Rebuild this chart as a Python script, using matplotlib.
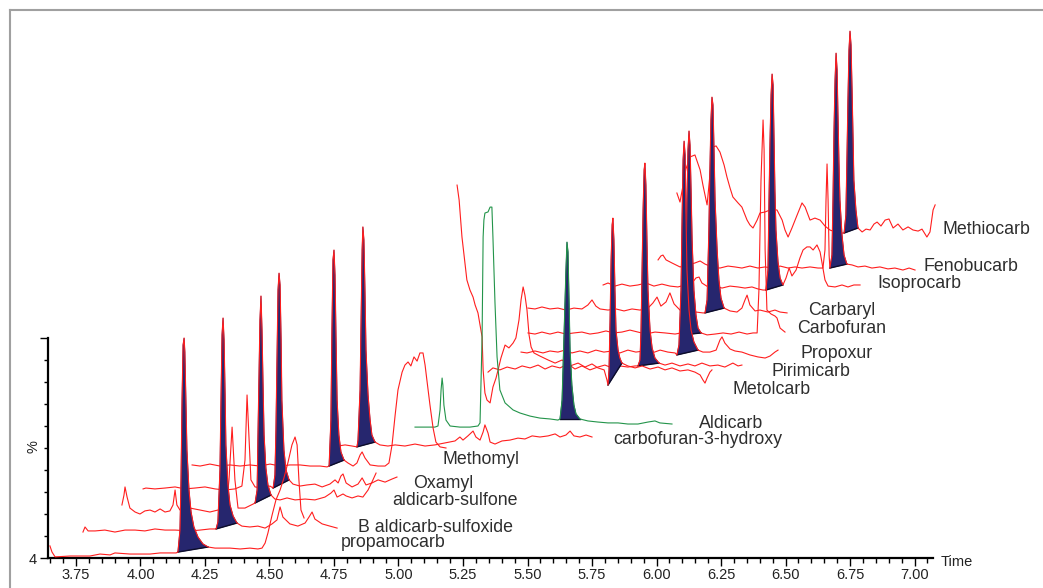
import matplotlib
matplotlib.use("Agg")
import matplotlib.pyplot as plt
from matplotlib.lines import Line2D
from matplotlib.ticker import MultipleLocator, FixedLocator
import numpy as np

plt.rcParams['font.family'] = ['Liberation Sans', 'DejaVu Sans']

# ---------------- data (time in min, intensity in %) ----------------
t_propamocarb = [3.649, 3.657, 3.669, 3.727, 3.804, 3.843, 3.882, 3.901, 3.959, 3.998,
                 4.037, 4.076, 4.114, 4.138, 4.145, 4.153, 4.157, 4.161, 4.165, 4.169,
                 4.172, 4.176, 4.180, 4.188, 4.196, 4.207, 4.223, 4.242, 4.262, 4.289,
                 4.347, 4.386, 4.424, 4.455, 4.471, 4.483, 4.494, 4.510, 4.525, 4.541,
                 4.556, 4.572, 4.587, 4.599, 4.607, 4.614, 4.622, 4.634]
y_propamocarb = [5.5, 2.7, 0.5, 0.9, 0.9, 1.8, 1.4, 2.3, 1.8, 1.8,
                 1.8, 2.3, 2.3, 2.3, 2.7, 12.7, 35.5, 71.8, 96.8, 100.0,
                 93.6, 71.8, 49.1, 30.9, 20.9, 14.1, 9.5, 6.4, 5.0, 4.5,
                 4.5, 4.1, 4.5, 4.1, 4.5, 6.8, 11.4, 19.5, 26.4, 30.9,
                 36.4, 43.6, 51.4, 55.0, 51.4, 35.5, 21.8, 18.2]

t_sulfoxide = [3.777, 3.785, 3.797, 3.824, 3.862, 3.901, 3.940, 3.979, 4.017, 4.056,
               4.095, 4.134, 4.192, 4.231, 4.269, 4.293, 4.300, 4.308, 4.312, 4.316,
               4.320, 4.324, 4.328, 4.331, 4.339, 4.347, 4.359, 4.374, 4.393, 4.424,
               4.455, 4.483, 4.510, 4.529, 4.541, 4.552, 4.579, 4.610, 4.638, 4.653,
               4.665, 4.676, 4.704, 4.734, 4.762]
y_sulfoxide = [11.8, 14.1, 12.3, 12.3, 12.7, 11.8, 12.7, 12.7, 12.3, 13.2,
               12.7, 12.7, 12.3, 12.7, 13.2, 13.2, 16.4, 40.0, 71.8, 101.4,
               109.1, 99.1, 74.1, 51.4, 33.2, 24.1, 19.1, 15.9, 14.5, 14.1,
               14.5, 13.6, 15.5, 17.3, 23.2, 18.6, 15.5, 14.5, 15.9, 18.6,
               20.9, 17.7, 15.5, 14.5, 13.6]

t_sulfone = [3.928, 3.936, 3.940, 3.948, 3.959, 3.979, 3.998, 4.017, 4.037, 4.056,
             4.076, 4.095, 4.114, 4.126, 4.134, 4.141, 4.153, 4.192, 4.231, 4.269,
             4.300, 4.331, 4.343, 4.355, 4.366, 4.378, 4.405, 4.436, 4.444, 4.452,
             4.455, 4.459, 4.463, 4.467, 4.471, 4.475, 4.479, 4.486, 4.494, 4.506,
             4.521, 4.541, 4.568, 4.599, 4.638, 4.676, 4.715, 4.738, 4.750, 4.762,
             4.785, 4.797, 4.820, 4.843, 4.862, 4.882, 4.897, 4.913]
y_sulfone = [24.1, 28.6, 32.3, 27.7, 22.7, 20.9, 20.0, 21.4, 21.8, 20.9,
             22.3, 20.9, 21.4, 24.1, 30.9, 24.1, 21.8, 22.7, 21.8, 20.9,
             21.8, 21.8, 35.5, 59.5, 35.5, 22.7, 22.7, 24.5, 25.0, 30.9,
             53.6, 80.9, 108.2, 119.1, 103.6, 78.6, 55.9, 40.9, 33.2, 28.6,
             26.8, 26.4, 27.3, 26.4, 26.8, 26.4, 27.7, 29.5, 30.9, 27.7,
             29.1, 28.2, 27.3, 28.2, 27.7, 30.9, 34.5, 38.6]

t_oxamyl = [4.010, 4.021, 4.056, 4.095, 4.134, 4.172, 4.211, 4.250, 4.289, 4.328,
            4.366, 4.393, 4.405, 4.413, 4.421, 4.428, 4.444, 4.471, 4.502, 4.514,
            4.521, 4.525, 4.529, 4.533, 4.537, 4.541, 4.545, 4.548, 4.556, 4.564,
            4.576, 4.591, 4.618, 4.645, 4.676, 4.704, 4.734, 4.754, 4.766, 4.777,
            4.785, 4.797, 4.820, 4.843, 4.859, 4.874, 4.897, 4.921, 4.948, 4.975,
            4.994]
y_oxamyl = [31.4, 31.8, 31.4, 31.8, 32.3, 31.4, 31.8, 32.3, 31.4, 30.9,
            31.4, 32.7, 44.5, 74.1, 53.6, 35.5, 32.3, 31.8, 32.7, 31.8,
            37.7, 58.2, 90.0, 121.8, 129.5, 124.1, 99.1, 71.8, 49.1, 40.0,
            35.5, 33.6, 32.7, 33.2, 33.6, 32.3, 33.6, 35.5, 34.1, 37.3,
            38.2, 34.1, 32.3, 33.6, 36.4, 33.2, 34.1, 35.5, 34.5, 35.9,
            36.8]

t_methomyl = [4.200, 4.231, 4.269, 4.308, 4.347, 4.386, 4.424, 4.463, 4.502, 4.541,
              4.579, 4.618, 4.657, 4.696, 4.723, 4.731, 4.738, 4.742, 4.746, 4.750,
              4.754, 4.758, 4.762, 4.769, 4.777, 4.789, 4.804, 4.824, 4.839, 4.851,
              4.859, 4.870, 4.890, 4.921, 4.948, 4.963, 4.975, 4.987, 4.998, 5.014,
              5.025, 5.037, 5.048, 5.060, 5.072, 5.083, 5.095, 5.103, 5.110, 5.122,
              5.134, 5.145, 5.161, 5.184]
y_methomyl = [42.3, 41.8, 42.7, 41.8, 42.3, 41.8, 42.3, 41.8, 42.7, 41.8,
              42.3, 42.3, 41.8, 41.8, 41.4, 41.8, 62.7, 103.6, 135.5, 140.0,
              128.6, 99.1, 71.8, 55.9, 48.2, 44.5, 43.2, 41.8, 43.2, 46.8,
              48.2, 45.5, 42.3, 41.8, 41.8, 43.2, 51.4, 65.0, 76.4, 84.5,
              87.7, 89.1, 87.3, 91.4, 89.5, 93.2, 93.2, 87.7, 80.9, 69.5,
              59.1, 52.7, 50.5, 50.0]

t_c3h = [4.766, 4.793, 4.820, 4.839, 4.843, 4.851, 4.855, 4.859, 4.862, 4.866,
         4.870, 4.874, 4.882, 4.890, 4.897, 4.909, 4.928, 4.959, 4.987, 5.025,
         5.064, 5.103, 5.141, 5.180, 5.219, 5.238, 5.250, 5.269, 5.289, 5.300,
         5.316, 5.328, 5.335, 5.347, 5.355, 5.374, 5.401, 5.432, 5.463, 5.490,
         5.518, 5.548, 5.580, 5.607, 5.626, 5.649, 5.665, 5.680, 5.703, 5.727,
         5.750]
y_c3h = [50.9, 51.4, 50.9, 50.5, 53.6, 76.4, 108.2, 140.0, 150.5, 144.5,
         121.8, 94.5, 74.1, 62.7, 55.9, 52.7, 51.4, 50.9, 51.4, 50.9,
         51.8, 50.9, 51.4, 52.3, 53.2, 55.0, 53.6, 55.5, 57.7, 55.0,
         53.6, 57.3, 60.5, 56.8, 52.7, 51.8, 53.2, 53.6, 54.5, 54.1,
         55.5, 55.0, 55.5, 56.4, 55.0, 55.9, 57.7, 55.5, 55.0, 55.9,
         55.0]

t_aldicarb = [5.064, 5.103, 5.141, 5.153, 5.161, 5.165, 5.169, 5.172, 5.176, 5.184,
              5.200, 5.238, 5.277, 5.308, 5.316, 5.320, 5.324, 5.328, 5.331, 5.335,
              5.347, 5.355, 5.362, 5.366, 5.374, 5.382, 5.393, 5.413, 5.444, 5.471,
              5.510, 5.548, 5.587, 5.618, 5.626, 5.634, 5.641, 5.649, 5.653, 5.657,
              5.661, 5.665, 5.672, 5.680, 5.688, 5.703, 5.734, 5.773, 5.812, 5.851,
              5.889, 5.928, 5.967, 5.994, 6.013, 6.060]
y_aldicarb = [59.5, 59.5, 59.5, 60.0, 67.3, 76.4, 81.8, 78.6, 69.5, 62.7,
              60.0, 59.5, 59.5, 60.0, 61.4, 80.9, 100.5, 145.9, 153.6, 156.8,
              157.3, 159.5, 159.5, 145.9, 115.9, 91.4, 76.4, 70.5, 67.3, 65.9,
              64.5, 63.6, 63.2, 62.7, 63.2, 71.8, 99.1, 130.9, 143.6, 139.1,
              117.3, 94.5, 78.6, 69.5, 65.5, 63.2, 62.3, 61.8, 61.4, 61.4,
              60.9, 60.9, 61.8, 62.3, 61.4, 60.9]

t_metolcarb = [5.227, 5.235, 5.246, 5.254, 5.265, 5.277, 5.289, 5.297, 5.308, 5.316,
               5.324, 5.328, 5.335, 5.343, 5.355, 5.366, 5.378, 5.386, 5.397, 5.413,
               5.428, 5.444, 5.455, 5.467, 5.475, 5.483, 5.490, 5.498, 5.506, 5.514,
               5.525, 5.548, 5.580, 5.607, 5.634, 5.665, 5.696, 5.723, 5.750, 5.773,
               5.797, 5.808, 5.812, 5.816, 5.820, 5.824, 5.828, 5.831, 5.835, 5.839,
               5.843, 5.851, 5.858, 5.866, 5.889, 5.917, 5.944, 5.975, 6.006, 6.033,
               6.060, 6.091, 6.122, 6.149, 6.169, 6.180, 6.188, 6.196, 6.207, 6.215]
y_metolcarb = [169.5, 162.7, 145.9, 137.7, 126.4, 121.8, 118.6, 115.0, 111.4, 105.9,
               100.5, 85.5, 75.0, 71.8, 70.5, 77.7, 81.8, 85.5, 90.9, 96.8,
               95.5, 97.7, 100.0, 108.2, 117.3, 123.2, 119.5, 112.7, 101.4, 95.9,
               93.2, 91.8, 90.0, 88.6, 90.0, 87.3, 88.6, 86.8, 88.2, 86.4,
               85.5, 80.9, 78.6, 85.5, 108.2, 135.5, 151.4, 154.5, 144.5, 121.8,
               103.6, 94.5, 90.9, 88.6, 87.3, 86.4, 87.3, 85.9, 86.8, 85.5,
               86.4, 85.0, 85.5, 84.5, 83.2, 80.9, 79.5, 81.8, 84.5, 85.5]

t_pirimicarb = [5.347, 5.366, 5.393, 5.421, 5.452, 5.479, 5.510, 5.541, 5.568, 5.595,
                5.626, 5.657, 5.684, 5.711, 5.742, 5.773, 5.800, 5.828, 5.858, 5.889,
                5.917, 5.928, 5.936, 5.940, 5.944, 5.948, 5.952, 5.955, 5.959, 5.963,
                5.967, 5.975, 5.983, 5.994, 6.010, 6.033, 6.060, 6.091, 6.122, 6.149,
                6.176, 6.207, 6.238, 6.265, 6.296, 6.316, 6.331]
y_pirimicarb = [84.5, 86.4, 85.5, 86.8, 85.9, 87.3, 86.4, 87.7, 85.9, 87.3,
                86.4, 88.2, 85.9, 87.3, 85.5, 86.8, 87.7, 86.4, 87.3, 86.8,
                87.3, 87.3, 90.0, 103.6, 130.9, 158.2, 176.4, 179.5, 169.5, 144.5,
                121.8, 103.6, 95.5, 90.9, 88.6, 87.7, 88.6, 87.3, 88.2, 87.3,
                88.6, 87.3, 87.7, 86.8, 88.6, 87.3, 87.7]

t_propoxur = [5.475, 5.498, 5.529, 5.560, 5.587, 5.618, 5.645, 5.672, 5.703, 5.734,
              5.765, 5.796, 5.828, 5.858, 5.889, 5.920, 5.951, 5.983, 6.014, 6.044,
              6.072, 6.079, 6.087, 6.095, 6.099, 6.103, 6.107, 6.111, 6.114, 6.118,
              6.126, 6.134, 6.145, 6.161, 6.180, 6.207, 6.231, 6.246, 6.254, 6.265,
              6.285, 6.304, 6.331, 6.362, 6.393, 6.421, 6.440, 6.459, 6.471]
y_propoxur = [93.6, 93.2, 94.1, 93.2, 94.1, 93.6, 94.5, 93.2, 94.1, 93.2,
              94.5, 93.6, 94.1, 93.2, 94.5, 93.6, 94.1, 93.2, 94.5, 93.6,
              93.2, 92.3, 96.8, 121.8, 153.6, 180.9, 189.5, 183.2, 158.2, 130.9,
              112.7, 103.6, 98.2, 94.5, 93.6, 93.6, 94.5, 99.1, 100.5, 97.7,
              95.0, 94.1, 93.6, 92.3, 91.4, 90.9, 91.8, 93.6, 94.5]

t_carbofuran = [5.502, 5.529, 5.556, 5.587, 5.618, 5.649, 5.680, 5.711, 5.742, 5.773,
                5.804, 5.835, 5.866, 5.897, 5.928, 5.959, 5.994, 6.033, 6.072, 6.095,
                6.103, 6.111, 6.114, 6.118, 6.122, 6.126, 6.130, 6.134, 6.138, 6.145,
                6.153, 6.161, 6.173, 6.196, 6.227, 6.258, 6.289, 6.320, 6.351, 6.374,
                6.390, 6.397, 6.405, 6.413, 6.417, 6.421, 6.428, 6.444, 6.459, 6.467,
                6.479, 6.498]
y_carbofuran = [102.3, 101.8, 102.7, 101.8, 102.7, 101.8, 102.3, 102.7, 101.8, 102.3,
                103.2, 102.3, 102.7, 103.6, 102.7, 101.8, 102.7, 102.3, 101.8, 102.3,
                101.4, 108.2, 130.9, 162.7, 185.5, 194.1, 187.7, 167.3, 144.5, 121.8,
                110.5, 104.5, 102.3, 101.4, 101.8, 102.3, 101.8, 102.7, 101.8, 102.3,
                102.3, 121.8, 171.8, 199.1, 185.5, 140.0, 112.7, 110.9, 110.0, 109.1,
                104.5, 102.7]

t_carbaryl = [5.502, 5.529, 5.556, 5.587, 5.618, 5.649, 5.680, 5.711, 5.734, 5.750,
              5.765, 5.781, 5.812, 5.843, 5.874, 5.905, 5.936, 5.967, 5.986, 6.002,
              6.017, 6.037, 6.052, 6.068, 6.091, 6.122, 6.153, 6.180, 6.188, 6.196,
              6.203, 6.207, 6.211, 6.215, 6.219, 6.223, 6.227, 6.235, 6.242, 6.250,
              6.262, 6.285, 6.312, 6.331, 6.343, 6.351, 6.362, 6.382, 6.401, 6.432,
              6.459, 6.479, 6.506]
y_carbaryl = [113.6, 113.2, 114.1, 113.2, 113.6, 112.7, 113.6, 113.2, 115.0, 117.3,
              114.5, 113.2, 112.7, 113.2, 112.3, 113.2, 112.7, 113.6, 115.9, 118.6,
              114.5, 116.4, 120.5, 115.5, 112.7, 111.8, 111.8, 111.4, 111.4, 117.3,
              149.1, 176.4, 199.1, 209.5, 205.9, 185.5, 162.7, 140.0, 126.4, 118.2,
              113.6, 112.3, 111.8, 113.6, 117.3, 119.5, 115.0, 112.3, 112.7, 111.8,
              112.7, 111.8, 111.4]

t_isoprocarb = [5.793, 5.812, 5.839, 5.866, 5.897, 5.928, 5.959, 5.990, 6.021, 6.052,
                6.083, 6.111, 6.138, 6.153, 6.165, 6.176, 6.200, 6.227, 6.254, 6.285,
                6.316, 6.343, 6.370, 6.393, 6.413, 6.424, 6.432, 6.436, 6.440, 6.444,
                6.448, 6.452, 6.455, 6.459, 6.463, 6.471, 6.479, 6.490, 6.502, 6.514,
                6.525, 6.541, 6.556, 6.568, 6.583, 6.595, 6.607, 6.622, 6.634, 6.641,
                6.653, 6.665, 6.692, 6.719, 6.742, 6.765, 6.789]
y_isoprocarb = [124.1, 125.0, 123.6, 124.5, 123.6, 124.1, 125.0, 123.6, 124.5, 123.6,
                123.2, 124.1, 125.0, 127.3, 127.7, 125.0, 123.2, 123.6, 122.7, 123.6,
                123.2, 122.7, 123.2, 122.3, 121.8, 121.8, 130.9, 162.7, 190.0, 210.5,
                220.0, 215.0, 194.5, 167.3, 149.1, 134.5, 127.3, 124.1, 127.3, 131.8,
                128.2, 130.9, 136.4, 140.0, 141.4, 141.4, 140.0, 142.3, 139.1, 134.5,
                126.4, 123.6, 123.2, 124.1, 123.2, 124.1, 124.1]

t_fenobucarb = [6.006, 6.017, 6.025, 6.037, 6.060, 6.091, 6.122, 6.149, 6.169, 6.188,
                6.215, 6.246, 6.277, 6.304, 6.331, 6.362, 6.393, 6.421, 6.448, 6.479,
                6.510, 6.537, 6.564, 6.595, 6.626, 6.645, 6.653, 6.657, 6.661, 6.665,
                6.669, 6.672, 6.680, 6.684, 6.688, 6.692, 6.696, 6.700, 6.703, 6.707,
                6.711, 6.719, 6.727, 6.738, 6.758, 6.781, 6.808, 6.835, 6.866, 6.897,
                6.924, 6.955, 6.979, 7.002]
y_fenobucarb = [135.5, 137.3, 137.7, 135.5, 134.1, 132.3, 133.2, 134.1, 135.0, 133.6,
                132.3, 131.8, 132.7, 132.3, 131.8, 132.7, 131.8, 132.3, 131.8, 132.7,
                131.8, 132.3, 131.8, 132.3, 131.8, 131.8, 140.0, 162.7, 179.1, 162.7,
                137.7, 131.8, 137.7, 162.7, 194.5, 217.3, 229.5, 221.8, 203.6, 180.9,
                162.7, 146.8, 137.7, 133.6, 133.2, 132.3, 132.7, 131.8, 132.3, 131.4,
                131.8, 130.9, 131.8, 130.9]

t_methiocarb = [6.079, 6.091, 6.103, 6.114, 6.130, 6.149, 6.169, 6.180, 6.196, 6.207,
                6.219, 6.231, 6.246, 6.262, 6.273, 6.285, 6.296, 6.316, 6.331, 6.351,
                6.362, 6.374, 6.390, 6.401, 6.421, 6.440, 6.467, 6.487, 6.498, 6.510,
                6.525, 6.545, 6.564, 6.576, 6.595, 6.614, 6.634, 6.653, 6.672, 6.692,
                6.711, 6.727, 6.734, 6.738, 6.742, 6.746, 6.750, 6.754, 6.758, 6.762,
                6.765, 6.773, 6.781, 6.797, 6.812, 6.828, 6.843, 6.855, 6.870, 6.886,
                6.901, 6.917, 6.936, 6.955, 6.975, 6.994, 7.014, 7.029, 7.048, 7.060,
                7.072, 7.080]
y_methiocarb = [165.9, 161.8, 169.5, 176.8, 182.3, 183.2, 176.4, 169.5, 160.5, 174.1,
                186.8, 187.3, 184.5, 178.6, 173.2, 168.2, 164.1, 161.4, 159.5, 153.6,
                151.4, 150.0, 153.6, 156.8, 157.3, 158.2, 158.2, 153.6, 149.1, 145.9,
                150.0, 155.9, 161.4, 159.5, 153.6, 154.5, 153.6, 150.9, 149.1, 148.2,
                147.7, 147.7, 155.9, 180.9, 208.2, 230.9, 239.5, 233.2, 212.7, 190.0,
                171.8, 158.2, 150.0, 148.2, 149.5, 149.1, 151.8, 152.7, 150.9, 153.6,
                154.1, 150.0, 151.8, 149.1, 150.5, 149.1, 148.6, 149.5, 145.9, 148.2,
                158.2, 160.5]

x_tick_labels = ["3.75", "4.00", "4.25", "4.50", "4.75", "5.00", "5.25",
                 "5.50", "5.75", "6.00", "6.25", "6.50", "6.75", "7.00"]
x_tick_values = [3.75, 4.00, 4.25, 4.50, 4.75, 5.00, 5.25,
                 5.50, 5.75, 6.00, 6.25, 6.50, 6.75, 7.00]
y_minor_ticks = [10, 20, 30, 40, 50, 60, 70, 80, 90]

# name, t, y, integration window (min)
traces = [
    ("Methiocarb", t_methiocarb, y_methiocarb, (6.727, 6.781)),
    ("Fenobucarb", t_fenobucarb, y_fenobucarb, (6.672, 6.738)),
    ("Isoprocarb", t_isoprocarb, y_isoprocarb, (6.424, 6.490)),
    ("Carbaryl", t_carbaryl, y_carbaryl, (6.188, 6.262)),
    ("Carbofuran", t_carbofuran, y_carbofuran, (6.103, 6.173)),
    ("Propoxur", t_propoxur, y_propoxur, (6.079, 6.161)),
    ("Pirimicarb", t_pirimicarb, y_pirimicarb, (5.928, 6.010)),
    ("Metolcarb", t_metolcarb, y_metolcarb, (5.812, 5.866)),
    ("Aldicarb", t_aldicarb, y_aldicarb, (5.626, 5.703)),
    ("carbofuran-3-hydroxy", t_c3h, y_c3h, (4.839, 4.909)),
    ("Methomyl", t_methomyl, y_methomyl, (4.731, 4.789)),
    ("Oxamyl", t_oxamyl, y_oxamyl, (4.514, 4.576)),
    ("aldicarb-sulfone", t_sulfone, y_sulfone, (4.444, 4.506)),
    ("B aldicarb-sulfoxide", t_sulfoxide, y_sulfoxide, (4.293, 4.374)),
    ("propamocarb", t_propamocarb, y_propamocarb, (4.145, 4.262)),
]

# label anchor positions (left, baseline) in data coordinates
label_pos = {
    "Methiocarb": (7.110, 147.3), "Fenobucarb": (7.033, 130.5),
    "Isoprocarb": (6.858, 122.7), "Carbaryl": (6.587, 110.5),
    "Carbofuran": (6.545, 102.3), "Propoxur": (6.560, 90.9),
    "Pirimicarb": (6.444, 82.7), "Metolcarb": (6.293, 74.5),
    "Aldicarb": (6.165, 59.1), "carbofuran-3-hydroxy": (5.831, 52.0),
    "Methomyl": (5.172, 42.7), "Oxamyl": (5.056, 31.8),
    "aldicarb-sulfone": (4.975, 24.1), "B aldicarb-sulfoxide": (4.843, 11.6),
    "propamocarb": (4.777, 4.8),
}

RED = "#ff1e1e"
GREEN = "#23944a"
NAVY = "#26266e"

W, H = 1043, 588
fig = plt.figure(figsize=(W / 100, H / 100), dpi=100)
ax = fig.add_axes([48 / W, 30 / H, 892 / W, 548 / H])
ax.set_xlim(3.6415, 7.0988)
ax.set_ylim(0, 249.09)

for i, (name, t, y, (lo, hi)) in enumerate(traces):
    t = np.asarray(t)
    y = np.asarray(y)
    color = GREEN if name == "Aldicarb" else RED
    z = 2 + 2 * i
    sel = (t >= lo - 1e-9) & (t <= hi + 1e-9)
    ax.fill(t[sel], y[sel], facecolor=NAVY, edgecolor=NAVY, lw=0.6, zorder=z)
    ax.plot([t[sel][0], t[sel][-1]], [y[sel][0], y[sel][-1]],
            color="#0c0c2a", lw=1.0, zorder=z + 0.5)
    ax.plot(t, y, color=color, lw=0.8, zorder=z + 1)
    lx, ly = label_pos[name]
    ax.text(lx, ly, name, fontsize=12.8, color="#2e2e2e", ha="left", va="baseline",
            clip_on=False, zorder=100)

for s in ("top", "right"):
    ax.spines[s].set_visible(False)
ax.spines["bottom"].set_bounds(3.6415, 7.0717)
ax.spines["left"].set_bounds(0, 100)
ax.spines["bottom"].set_linewidth(1.6)
ax.spines["left"].set_linewidth(1.6)

ax.set_xticks(x_tick_values)
ax.set_xticklabels(x_tick_labels)
ax.xaxis.set_minor_locator(MultipleLocator(0.05))
ax.set_yticks([0, 100])
ax.set_yticklabels(["4", ""])
ax.yaxis.set_minor_locator(FixedLocator(y_minor_ticks))
ax.tick_params(axis="x", which="major", direction="out", length=5.5, width=1.0,
               labelsize=10.5, pad=1.5, labelcolor="#222222")
ax.tick_params(axis="x", which="minor", direction="out", length=3.5, width=1.0)
ax.tick_params(axis="y", which="major", direction="out", length=6, width=1.0,
               labelsize=10.5, pad=2, labelcolor="#222222")
ax.tick_params(axis="y", which="minor", direction="out", length=3, width=1.0)

ax.text(7.100, -3.6, "Time", fontsize=10.5, color="#222222", ha="left",
        va="baseline", clip_on=False)
fig.text(33 / W, (H - 447) / H, "%", rotation=90, fontsize=10.5, color="#222222",
         ha="center", va="center")

# grey frame of the original screenshot
fig.add_artist(Line2D([10 / W, 10 / W], [0, 1 - 10 / H], transform=fig.transFigure,
                      color="#a0a0a0", lw=1.5))
fig.add_artist(Line2D([10 / W, 1], [1 - 10 / H, 1 - 10 / H], transform=fig.transFigure,
                      color="#a0a0a0", lw=1.5))

fig.savefig("out.png", dpi=100)
